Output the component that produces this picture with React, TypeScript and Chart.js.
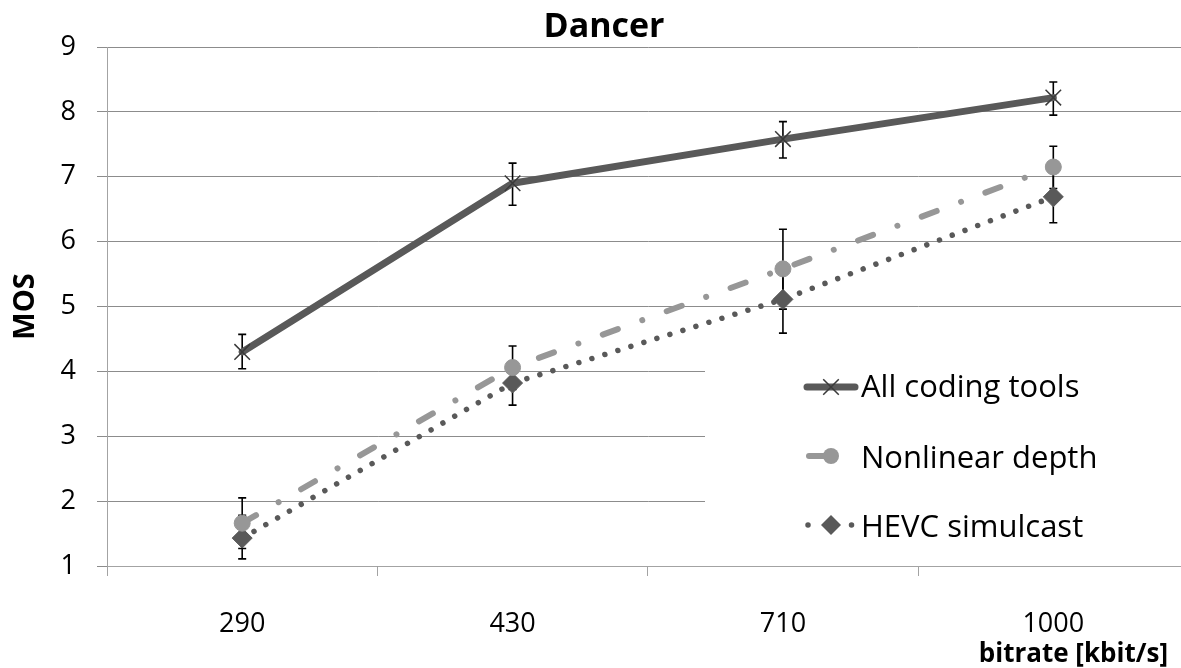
import React, { useEffect, useRef } from "react";
import { Chart, registerables } from "chart.js";

Chart.register(...registerables);

// ---------- data ----------
const chartTitle = "Dancer";
const xAxisTitle = "bitrate [kbit/s]";
const yAxisTitle = "MOS";
const categories = ["290", "430", "710", "1000"];
const seriesNames = ["All coding tools", "Nonlinear depth", "HEVC simulcast"];

const allCodingMOS = [4.3, 6.9, 7.58, 8.22];
const allCodingLow = [4.04, 6.56, 7.29, 7.95];
const allCodingHigh = [4.57, 7.21, 7.85, 8.46];

const nonlinearMOS = [1.66, 4.06, 5.58, 7.15];
const nonlinearLow = [1.27, 3.72, 4.96, 6.82];
const nonlinearHigh = [2.05, 4.39, 6.19, 7.47];

const hevcMOS = [1.43, 3.82, 5.11, 6.69];
const hevcLow = [1.11, 3.48, 4.59, 6.29];
const hevcHigh = [1.78, 4.15, 5.63, 7.08];

const yMin = 1;
const yMax = 9;
const yStep = 1;

// ---------- styles ----------
const FONT = "'Open Sans', 'Noto Sans', sans-serif";
const DARK = "#595959";
const LIGHT = "#979797";
const GRID = "#8c8c8c";
const AXIS = "#a3a3a3";
const CANVAS_W = 1201;
const CANVAS_H = 668;

function drawMarker(ctx: CanvasRenderingContext2D, style: string, x: number, y: number, r: number, fill: string, stroke: string, bw: number) {
  ctx.save();
  ctx.setLineDash([]);
  ctx.fillStyle = fill;
  ctx.strokeStyle = stroke;
  ctx.lineWidth = bw;
  ctx.beginPath();
  if (style === "crossRot") {
    const d = r * Math.SQRT1_2;
    ctx.moveTo(x - d, y - d);
    ctx.lineTo(x + d, y + d);
    ctx.moveTo(x - d, y + d);
    ctx.lineTo(x + d, y - d);
    ctx.stroke();
  } else if (style === "circle") {
    ctx.arc(x, y, r, 0, Math.PI * 2);
    ctx.fill();
  } else if (style === "rectRot") {
    ctx.moveTo(x, y - r);
    ctx.lineTo(x + r, y);
    ctx.lineTo(x, y + r);
    ctx.lineTo(x - r, y);
    ctx.closePath();
    ctx.fill();
  }
  ctx.restore();
}

const errorBarPlugin = {
  id: "errorBars",
  beforeDatasetsDraw(chart: any) {
    const ctx = chart.ctx as CanvasRenderingContext2D;
    const ys = chart.scales.y;
    chart.data.datasets.forEach((ds: any, i: number) => {
      const meta = chart.getDatasetMeta(i);
      meta.data.forEach((pt: any, j: number) => {
        const x = pt.x;
        const y1 = ys.getPixelForValue(ds.errLow[j]);
        const y2 = ys.getPixelForValue(ds.errHigh[j]);
        ctx.save();
        ctx.strokeStyle = "#000";
        ctx.lineWidth = 1.6;
        ctx.beginPath();
        ctx.moveTo(x, y1);
        ctx.lineTo(x, y2);
        ctx.moveTo(x - 4, y1);
        ctx.lineTo(x + 4, y1);
        ctx.moveTo(x - 4, y2);
        ctx.lineTo(x + 4, y2);
        ctx.stroke();
        ctx.restore();
      });
    });
  },
};

const textPlugin = {
  id: "texts",
  afterDraw(chart: any) {
    const ctx = chart.ctx as CanvasRenderingContext2D;
    const area = chart.chartArea;
    ctx.save();
    // title
    ctx.fillStyle = "#000";
    ctx.font = `bold 34px ${FONT}`;
    ctx.textAlign = "center";
    ctx.textBaseline = "alphabetic";
    ctx.fillText(chartTitle, 604, 37);
    // x axis title
    ctx.font = `bold 26px ${FONT}`;
    ctx.textAlign = "right";
    ctx.fillText(xAxisTitle, 1168, 662);

    // legend box
    const boxLeft = 705;
    const boxTop = 345;
    ctx.fillStyle = "#ffffff";
    ctx.fillRect(boxLeft, boxTop, area.right - boxLeft + 5, area.bottom - 6 - boxTop);

    const rowsY = [387, 456, 525];
    const baselines = [397, 468, 537];
    chart.data.datasets.forEach((ds: any, i: number) => {
      const cy = rowsY[i];
      ctx.save();
      ctx.strokeStyle = ds.borderColor;
      ctx.lineWidth = ds.borderWidth;
      ctx.lineCap = ds.borderCapStyle || "butt";
      ctx.setLineDash(ds.legendDash || []);
      ctx.beginPath();
      ctx.moveTo(ds.legendLineStart, cy);
      ctx.lineTo(ds.legendLineEnd, cy);
      ctx.stroke();
      ctx.restore();
      drawMarker(ctx, ds.pointStyle, 831, cy, ds.pointRadius, ds.pointBackgroundColor, ds.pointBorderColor, ds.pointBorderWidth);
      ctx.fillStyle = "#000";
      ctx.font = `31px ${FONT}`;
      ctx.textAlign = "left";
      ctx.textBaseline = "alphabetic";
      ctx.fillText(ds.label, 861, baselines[i]);
    });
    ctx.restore();
  },
};

export default function App() {
  const canvasRef = useRef<HTMLCanvasElement | null>(null);

  useEffect(() => {
    document.body.style.margin = "0";
    document.body.style.overflow = "hidden";
    Chart.defaults.font.family = FONT;
    Chart.defaults.color = "#000";
    const canvas = canvasRef.current;
    if (!canvas) return;

    const chart = new Chart(canvas, {
      type: "line",
      data: {
        labels: categories,
        datasets: [
          {
            label: seriesNames[0],
            data: allCodingMOS,
            errLow: allCodingLow,
            errHigh: allCodingHigh,
            borderColor: DARK,
            borderWidth: 7,
            borderCapStyle: "round",
            borderJoinStyle: "round",
            tension: 0,
            pointStyle: "crossRot",
            pointRadius: 11,
            pointBorderColor: "#3a3a3a",
            pointBackgroundColor: "#3a3a3a",
            pointBorderWidth: 1.5,
            legendLineStart: 807,
            legendLineEnd: 855,
            legendDash: [],
          } as any,
          {
            label: seriesNames[1],
            data: nonlinearMOS,
            errLow: nonlinearLow,
            errHigh: nonlinearHigh,
            borderColor: LIGHT,
            borderWidth: 6,
            borderDash: [16, 26, 0.01, 26],
            borderCapStyle: "round",
            tension: 0,
            pointStyle: "circle",
            pointRadius: 8,
            pointBorderColor: LIGHT,
            pointBackgroundColor: LIGHT,
            pointBorderWidth: 1,
            legendLineStart: 809,
            legendLineEnd: 831,
            legendDash: [],
          } as any,
          {
            label: seriesNames[2],
            data: hevcMOS,
            errLow: hevcLow,
            errHigh: hevcHigh,
            borderColor: DARK,
            borderWidth: 5.5,
            borderDash: [0.01, 13.6],
            borderCapStyle: "round",
            tension: 0,
            pointStyle: "rectRot",
            pointRadius: 10,
            pointBorderColor: DARK,
            pointBackgroundColor: DARK,
            pointBorderWidth: 1,
            legendLineStart: 808,
            legendLineEnd: 856,
            legendDash: [0.01, 43.5],
          } as any,
        ],
      },
      options: {
        animation: false,
        responsive: false,
        maintainAspectRatio: false,
        devicePixelRatio: 1,
        layout: { padding: { top: 47, right: 3, left: 0, bottom: 0 } },
        plugins: {
          legend: { display: false },
          title: { display: false },
          tooltip: { enabled: false },
        },
        elements: { line: { fill: false } },
        scales: {
          x: {
            type: "category",
            offset: true,
            grid: {
              offset: true,
              drawOnChartArea: false,
              drawTicks: true,
              tickLength: 10,
              color: AXIS,
            },
            border: { display: true, color: AXIS },
            ticks: {
              font: { size: 27, family: FONT },
              color: "#000",
              padding: 32,
              maxRotation: 0,
            },
            afterFit: (scale: any) => {
              scale.height = 102;
              scale.paddingLeft = 0;
              scale.paddingRight = 0;
            },
          },
          y: {
            min: yMin,
            max: yMax,
            grid: {
              color: GRID,
              tickLength: 10,
              drawTicks: true,
            },
            border: { display: true, color: AXIS },
            ticks: {
              stepSize: yStep,
              font: { size: 27, family: FONT },
              color: "#000",
              padding: 21,
            },
            title: {
              display: true,
              text: yAxisTitle,
              font: { size: 29, weight: "bold", family: FONT },
              color: "#000",
              padding: { top: 8, bottom: 0 },
            },
            afterFit: (scale: any) => {
              scale.width = 107;
            },
          },
        },
      } as any,
      plugins: [errorBarPlugin, textPlugin],
    });

    return () => {
      chart.destroy();
    };
  }, []);

  return (
    <div style={{ position: "relative", width: CANVAS_W, height: CANVAS_H, background: "#fff", overflow: "hidden" }}>
      <canvas ref={canvasRef} width={CANVAS_W} height={CANVAS_H} style={{ width: CANVAS_W, height: CANVAS_H, display: "block" }} />
    </div>
  );
}
